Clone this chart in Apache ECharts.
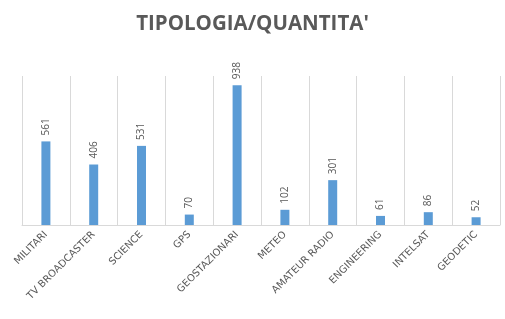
<!DOCTYPE html>
<html><head><meta charset="utf-8">
<script src="https://cdn.jsdelivr.net/npm/echarts@6/dist/echarts.min.js"></script>
<style>html,body{margin:0;padding:0;background:#fff}#c{width:505px;height:319px}</style>
</head><body><div id="c"></div>
<script>
var categories = ['MILITARI','TV BROADCASTER','SCIENCE','GPS','GEOSTAZIONARI','METEO','AMATEUR RADIO','ENGINEERING','INTELSAT','GEODETIC'];
var values = [561,406,531,70,938,102,301,61,86,52];
var chart = echarts.init(document.getElementById('c'));
chart.setOption({
  animation:false,
  title:{text:"TIPOLOGIA/QUANTITA'",left:'center',top:9,textStyle:{fontFamily:'Open Sans',fontWeight:'bold',fontSize:20.5,color:'#595959'}},
  grid:{left:22,right:5,top:76,bottom:94},
  xAxis:{type:'category',data:categories,
    axisLine:{lineStyle:{color:'#d9d9d9'}},axisTick:{show:false},
    splitLine:{show:true,lineStyle:{color:'#d9d9d9'}},
    axisLabel:{rotate:45,interval:0,fontFamily:'DejaVu Sans',fontSize:10,color:'#595959',margin:8}},
  yAxis:{type:'value',min:0,max:1000,show:false,splitLine:{show:false}},
  series:[{type:'bar',data:values,barWidth:9,itemStyle:{color:'#5B9BD5'},
    label:{show:true,position:'top',rotate:90,align:'left',verticalAlign:'middle',distance:6,fontFamily:'Open Sans',fontSize:10,color:'#595959'}}]
});
</script></body></html>
